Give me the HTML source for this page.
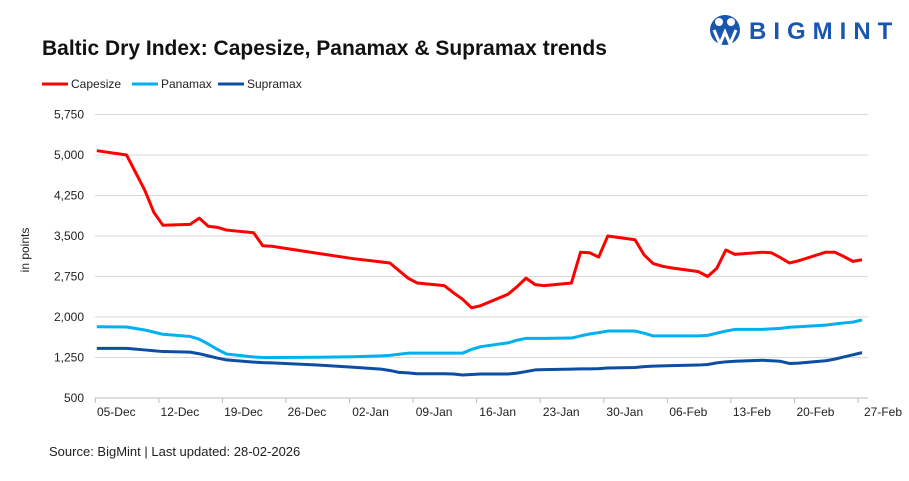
<!DOCTYPE html>
<html><head><meta charset="utf-8"><style>
body{margin:0;background:#fff;font-family:"Liberation Sans",Arial,sans-serif;}
svg text{font-family:"Liberation Sans",Arial,sans-serif;}
</style></head><body>
<svg id="chart" width="909" height="476">
<g>
<circle cx="725" cy="30" r="15" fill="#1a56b0"/>
<circle cx="719" cy="22" r="4" fill="#fff"/><circle cx="731" cy="22" r="4" fill="#fff"/>
<path d="M714 30 L720 44 L725 32 L730 44 L736 30" stroke="#fff" stroke-width="3" fill="none"/>
<text x="749" y="39" font-size="24" font-weight="bold" fill="#1a56b0" letter-spacing="7">BIGMINT</text>
</g>
<text x="42" y="55" font-size="21" font-weight="bold" fill="#111">Baltic Dry Index: Capesize, Panamax &amp; Supramax trends</text>
<g id="legend"></g>
<text transform="translate(29,250) rotate(-90)" text-anchor="middle" font-size="12" fill="#222">in points</text>
<g id="grid"></g><g id="series"></g>
<text x="49" y="456" font-size="13" fill="#222">Source: BigMint | Last updated: 28-02-2026</text>
</svg>
<script>
const dayOffsets=[0,3,5,6,7,10,11,12,13,14,17,18,19,24,28,31,32,33,34,35,38,39,40,41,42,45,46,47,48,49,52,53,54,55,56,59,60,61,62,63,66,67,68,69,70,73,74,75,76,77,80,81,82,83,84];
const capesize=[5080,5000,4350,3940,3700,3715,3830,3680,3660,3610,3560,3320,3310,3180,3080,3020,3000,2860,2720,2630,2580,2450,2330,2170,2210,2420,2560,2720,2600,2580,2630,3200,3190,3110,3500,3430,3150,2990,2940,2910,2840,2750,2900,3240,3160,3200,3190,3100,3000,3040,3200,3200,3120,3030,3060];
const panamax=[1820,1815,1760,1720,1680,1640,1590,1500,1400,1315,1260,1250,1250,1255,1265,1280,1290,1310,1330,1330,1330,1330,1330,1400,1450,1520,1570,1605,1605,1605,1610,1650,1685,1710,1740,1740,1700,1650,1650,1650,1650,1660,1700,1740,1770,1770,1780,1790,1810,1820,1850,1870,1890,1905,1945];
const supramax=[1420,1420,1390,1375,1360,1350,1320,1280,1240,1205,1165,1155,1150,1110,1070,1035,1010,975,965,950,950,945,925,935,945,945,960,990,1020,1025,1035,1040,1040,1045,1055,1065,1080,1090,1095,1100,1110,1120,1150,1170,1180,1200,1190,1180,1140,1145,1190,1220,1260,1300,1340];
const yTicks=[500,1250,2000,2750,3500,4250,5000,5750];
const xTickLabels=["05-Dec","12-Dec","19-Dec","26-Dec","02-Jan","09-Jan","16-Jan","23-Jan","30-Jan","06-Feb","13-Feb","20-Feb","27-Feb"];
const xTickDays=[0,7,14,21,28,35,42,49,56,63,70,77,84];
const seriesNames=["Capesize","Panamax","Supramax"];
const seriesColors=["#ff0000","#00b0f0","#0b4ea2"];
const NS="http://www.w3.org/2000/svg";
const X=d=>95.3+d*9.08, XD=d=>X(d)+(d>0?4:1.5), Y=v=>398-(v-500)*40.5/750;
const grid=document.getElementById('grid'), ser=document.getElementById('series'), leg=document.getElementById('legend');
function mk(tag,at,parent){const e=document.createElementNS(NS,tag);for(const k in at)e.setAttribute(k,at[k]);parent.appendChild(e);return e;}
yTicks.forEach(v=>{
 const l=mk('line',{x1:95,x2:868,y1:Y(v),y2:Y(v),stroke:v===500?'#bbb':'#d9d9d9','stroke-width':1},grid);
 
 
 const t=mk('text',{x:84,y:Y(v)+4,'text-anchor':'end','font-size':12,fill:'#222'},grid);t.textContent=v.toLocaleString('en-US');
 
 
});
xTickLabels.forEach((s,i)=>{
 const x=X(xTickDays[i]);
 const l=mk('line',{x1:x,x2:x,y1:398,y2:403,stroke:'#bbb'},grid);
 
 
 const t=mk('text',{x:x+(i===12?4:0)+21,y:416,'text-anchor':'middle','font-size':12,fill:'#222'},grid);t.textContent=s;
 
 
});
[capesize,panamax,supramax].forEach((arr,si)=>{
 const pts=arr.map((v,i)=>XD(dayOffsets[i])+','+Y(v)).join(' ');
 const p=mk('polyline',{points:pts,fill:'none',stroke:seriesColors[si],'stroke-width':3,'stroke-linejoin':'round'},ser);
 
 
 const lx=[42,132,218][si];
 const g=mk('g',{},leg);
 
 
 mk('line',{x1:lx,x2:lx+26,y1:84,y2:84,stroke:seriesColors[si],'stroke-width':3},g);
 const t=mk('text',{x:lx+29,y:88,'font-size':12,fill:'#222'},g);t.textContent=seriesNames[si];
});
</script>
</body></html>
